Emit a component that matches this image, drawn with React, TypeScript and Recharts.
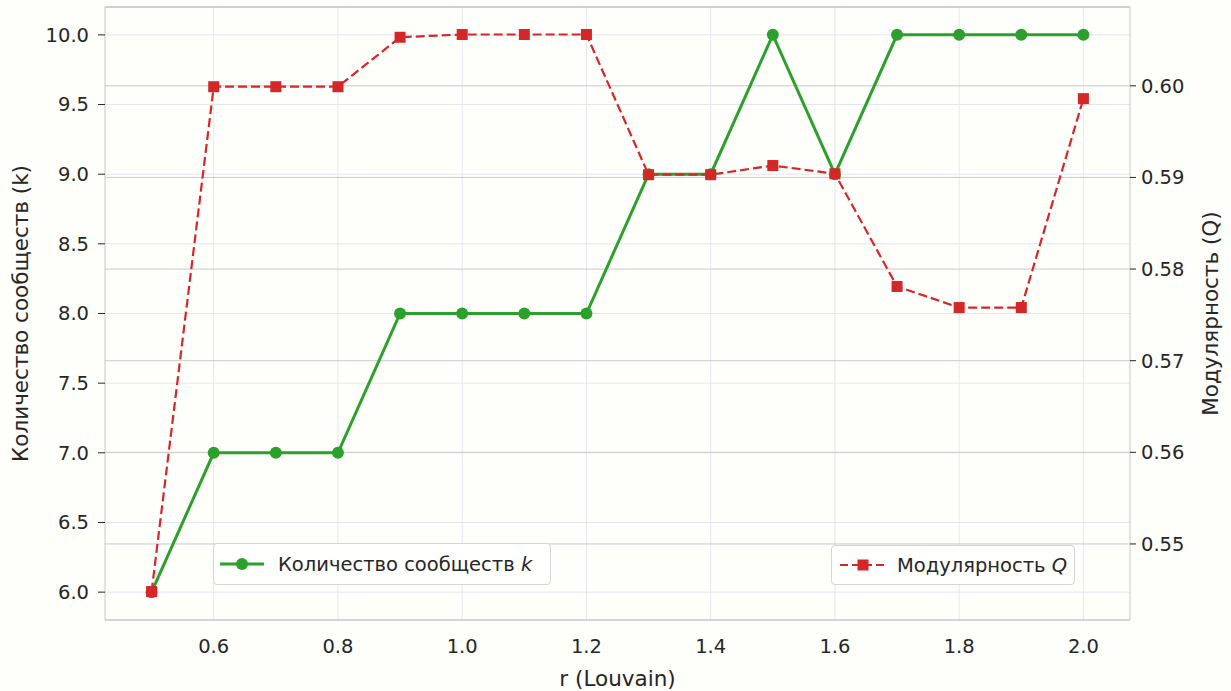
import {
  LineChart, Line, XAxis, YAxis, CartesianGrid, ReferenceLine,
} from 'recharts'

const rValues = [0.5, 0.6, 0.7, 0.8, 0.9, 1.0, 1.1, 1.2, 1.3, 1.4, 1.5, 1.6, 1.7, 1.8, 1.9, 2.0]
const kValues = [6, 7, 7, 7, 8, 8, 8, 8, 9, 9, 10, 9, 10, 10, 10, 10]
const qValues = [
  0.5448, 0.5999, 0.5999, 0.5999, 0.6053, 0.6056, 0.6056, 0.6056,
  0.5903, 0.5903, 0.5913, 0.5904, 0.5781, 0.5758, 0.5758, 0.5986,
]
const xTicks = [0.6, 0.8, 1.0, 1.2, 1.4, 1.6, 1.8, 2.0]
const kTicks = [6.0, 6.5, 7.0, 7.5, 8.0, 8.5, 9.0, 9.5, 10.0]
const qTicks = [0.55, 0.56, 0.57, 0.58, 0.59, 0.6]
const kLabel = 'Количество сообществ'
const qLabel = 'Модулярность'

const data = rValues.map((r, i) => ({ r, k: kValues[i], q: qValues[i] }))

const GREEN = '#2ca02c'
const RED = '#d62728'
const FONT = '"DejaVu Sans", sans-serif'
const BG = '#fefefb'

const SquareDot = (props: any) => {
  const { cx, cy } = props
  if (cx == null || cy == null) return null
  return <rect x={cx - 5.5} y={cy - 5.5} width={11} height={11} fill={RED} />
}

const tickStyle = { fill: '#262626', fontSize: 19.5, fontFamily: FONT }

export default function App() {
  return (
    <div style={{ position: 'absolute', left: 0, top: 0, width: 1231, height: 691, background: BG, fontFamily: FONT }}>
      <LineChart width={1231} height={691} data={data} margin={{ top: 7, right: 0, bottom: 0, left: 0 }}>
        <CartesianGrid yAxisId="k" stroke="#e6e6ee" strokeWidth={1} verticalValues={xTicks} />
        <CartesianGrid yAxisId="q" stroke="#c9c9cf" strokeWidth={1} vertical={false} />
        <XAxis
          dataKey="r"
          type="number"
          domain={[0.425, 2.075]}
          ticks={xTicks}
          tickFormatter={(v: number) => v.toFixed(1)}
          allowDataOverflow
          height={71}
          tickLine={false}
          tickSize={0}
          tickMargin={19}
          stroke="#c8c8d0"
          tick={tickStyle}
          label={{ value: 'r (Louvain)', position: 'insideBottom', offset: 5, fill: '#262626', fontSize: 21.5, fontFamily: FONT }}
        />
        <YAxis
          yAxisId="k"
          orientation="left"
          width={105}
          domain={[5.8, 10.2]}
          ticks={kTicks}
          allowDataOverflow
          tickFormatter={(v: number) => v.toFixed(1)}
          tickSize={7}
          tickMargin={9}
          tickLine={{ stroke: '#262626' }}
          stroke="#c8c8d0"
          tick={tickStyle}
          label={{ value: `${kLabel} (k)`, angle: -90, position: 'insideLeft', offset: 20, style: { textAnchor: 'middle' }, fill: '#262626', fontSize: 21.5, fontFamily: FONT }}
        />
        <YAxis
          yAxisId="q"
          orientation="right"
          width={101}
          domain={[0.5417, 0.6086]}
          ticks={qTicks}
          allowDataOverflow
          tickFormatter={(v: number) => v.toFixed(2)}
          tickSize={6}
          tickMargin={5}
          tickLine={{ stroke: '#262626' }}
          stroke="#c8c8d0"
          tick={tickStyle}
          label={{ value: `${qLabel} (Q)`, angle: -90, position: 'insideRight', offset: 21, style: { textAnchor: 'middle' }, fill: '#262626', fontSize: 21.5, fontFamily: FONT }}
        />
        <ReferenceLine yAxisId="k" y={10.2} stroke="#c8c8d0" strokeWidth={1.5} ifOverflow="extendDomain" />
        <Line
          yAxisId="k"
          dataKey="k"
          stroke={GREEN}
          strokeWidth={3}
          dot={{ r: 6, fill: GREEN, stroke: GREEN, strokeWidth: 0 }}
          activeDot={false}
          isAnimationActive={false}
        />
        <Line
          yAxisId="q"
          dataKey="q"
          stroke={RED}
          strokeWidth={2.2}
          strokeDasharray="9 4"
          dot={<SquareDot />}
          activeDot={false}
          isAnimationActive={false}
        />
      </LineChart>

      <div style={{ position: 'absolute', left: 213, top: 543, width: 338, height: 42, boxSizing: 'border-box', border: '1px solid #d6d6da', borderRadius: 4, background: '#fffffe', display: 'flex', alignItems: 'center' }}>
        <svg width={56} height={20} style={{ marginLeft: 4 }}>
          <line x1={2} y1={10} x2={46} y2={10} stroke={GREEN} strokeWidth={3} />
          <circle cx={24} cy={10} r={6} fill={GREEN} />
        </svg>
        <span style={{ marginLeft: 4, fontSize: 19.5, color: '#262626', whiteSpace: 'nowrap' }}>
          {kLabel} <i>k</i>
        </span>
      </div>
      <div style={{ position: 'absolute', left: 831, top: 545, width: 244, height: 40, boxSizing: 'border-box', border: '1px solid #d6d6da', borderRadius: 4, background: '#fffffe', display: 'flex', alignItems: 'center' }}>
        <svg width={56} height={20} style={{ marginLeft: 4 }}>
          <line x1={4} y1={10} x2={50} y2={10} stroke={RED} strokeWidth={2.2} strokeDasharray="8 4" />
          <rect x={21.5} y={4.5} width={11} height={11} fill={RED} />
        </svg>
        <span style={{ marginLeft: 5, fontSize: 19.5, color: '#262626', whiteSpace: 'nowrap' }}>
          {qLabel} <i>Q</i>
        </span>
      </div>
    </div>
  )
}
